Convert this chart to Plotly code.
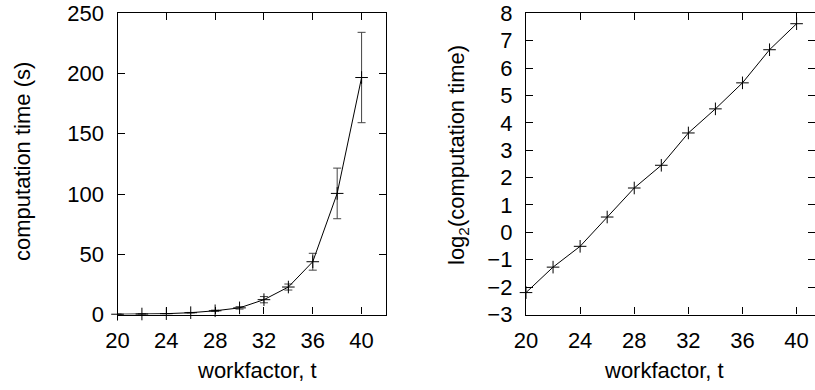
import plotly.graph_objects as go

workfactor = [20, 22, 24, 26, 28, 30, 32, 34, 36, 38, 40]
comp_time = [0.22, 0.41, 0.70, 1.5, 3.1, 5.5, 12.3, 22.8, 43.8, 100.5, 196.7]
comp_err = [0.05, 0.05, 0.1, 0.2, 0.5, 1.0, 2.6, 2.5, 7.0, 21.0, 37.5]
log2_time = [-2.2, -1.27, -0.51, 0.56, 1.62, 2.45, 3.63, 4.51, 5.46, 6.67, 7.62]

x_ticks = [20, 24, 28, 32, 36, 40]
left_y_ticks = [0, 50, 100, 150, 200, 250]
right_y_ticks = list(range(-3, 9))

W, H = 815, 390
FONT = "Liberation Sans, Arial, Helvetica, sans-serif"
FS = 22

fig = go.Figure()
fig.add_trace(go.Scatter(
    x=workfactor, y=comp_time, mode="lines+markers",
    line=dict(color="black", width=1),
    marker=dict(symbol="cross-thin", size=9, line=dict(color="black", width=1)),
    error_y=dict(type="data", array=comp_err, visible=True, color="#444", thickness=1, width=4),
    cliponaxis=False, xaxis="x", yaxis="y", showlegend=False))
fig.add_trace(go.Scatter(
    x=workfactor, y=log2_time, mode="lines+markers",
    line=dict(color="black", width=1),
    marker=dict(symbol="cross-thin", size=9, line=dict(color="black", width=1)),
    cliponaxis=False, xaxis="x2", yaxis="y2", showlegend=False))

def px_x(p):
    return p / W

def px_y(p):
    return 1 - p / H

axis_common = dict(showline=True, linecolor="black", linewidth=1.3, mirror="allticks",
                   ticks="inside", ticklen=7, tickcolor="black", tickwidth=1,
                   showgrid=False, zeroline=False, automargin=False,
                   tickfont=dict(family=FONT, size=FS, color="black"))

ydom = [px_y(314.5), px_y(13.3)]
title_font = dict(family=FONT, size=FS, color="black")
fig.update_layout(
    template="none",
    width=W, height=H, margin=dict(l=0, r=0, t=0, b=0, pad=0), autosize=False,
    plot_bgcolor="white", paper_bgcolor="white",
    xaxis=dict(domain=[px_x(117.5), px_x(386)], range=[20, 42], tickvals=x_ticks,
               ticklabelstandoff=6, **axis_common),
    yaxis=dict(domain=ydom, range=[0, 250], tickvals=left_y_ticks, anchor="x",
               ticklabelstandoff=8, ticklabeloverflow="allow", **axis_common),
    xaxis2=dict(domain=[px_x(526), 1.0], range=[20, 41.36], tickvals=x_ticks, anchor="y2",
                ticklabelstandoff=6, **axis_common),
    yaxis2=dict(domain=ydom, range=[-3, 8], tickvals=right_y_ticks, anchor="x2",
                ticklabelstandoff=8, ticklabeloverflow="allow", **axis_common),
    annotations=[
        dict(text="workfactor, t", x=px_x(257), y=px_y(370), xref="paper", yref="paper",
             xanchor="center", yanchor="middle", showarrow=False, font=title_font),
        dict(text="workfactor, t", x=px_x(664), y=px_y(370), xref="paper", yref="paper",
             xanchor="center", yanchor="middle", showarrow=False, font=title_font),
        dict(text="computation time (s)", x=px_x(22), y=px_y(162), xref="paper", yref="paper",
             xanchor="center", yanchor="middle", showarrow=False, textangle=-90, font=title_font),
        dict(text="log<sub>2</sub>(computation time)", x=px_x(458), y=px_y(155), xref="paper", yref="paper",
             xanchor="center", yanchor="middle", showarrow=False, textangle=-90, font=title_font),
    ],
)

fig.write_html("out.html", config={"displayModeBar": False},
               post_script="document.body.style.margin='0px';")
